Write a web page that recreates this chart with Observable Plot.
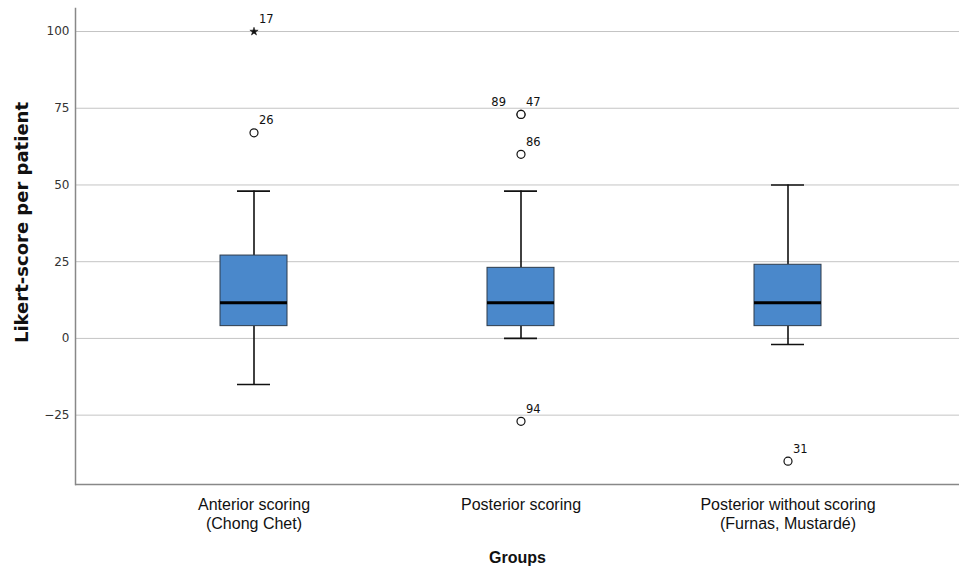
<!DOCTYPE html>
<html><head><meta charset="utf-8">
<script src="https://cdn.jsdelivr.net/npm/d3@7"></script>
<script src="https://cdn.jsdelivr.net/npm/@observablehq/plot@0.6"></script>
<style>body{margin:0;background:#fff;} svg{display:block;}</style>
</head><body><div id="chart"></div>
<script>
const groups = ["Anterior scoring\n(Chong Chet)", "Posterior scoring", "Posterior without scoring\n(Furnas, Mustardé)"];
const q1 = [4, 4, 4];
const medians = [11.6, 11.6, 11.6];
const q3 = [27, 23, 24];
const whiskerLow = [-15, 0, -2];
const whiskerHigh = [48, 48, 50];
const outlierGroup = [0, 0, 1, 1, 1, 1, 2];
const outlierValue = [100, 67, 73, 73, 60, -27, -40];
const outlierLabel = ["17", "26", "89", "47", "86", "94", "31"];
const outlierSymbol = ["star", "circle", "circle", "circle", "circle", "circle", "circle"];
const outlierLabelSide = ["right", "right", "left", "right", "right", "right", "right"];
const yTicks = [-25, 0, 25, 50, 75, 100];

const boxes = groups.map((g, i) => ({g, q1: q1[i], med: medians[i], q3: q3[i], lo: whiskerLow[i], hi: whiskerHigh[i]}));
const outliers = outlierValue.map((v, i) => ({g: groups[outlierGroup[i]], v, label: outlierLabel[i], sym: outlierSymbol[i], side: outlierLabelSide[i]}));

const yMin = -47.6, yMax = 107.5;
const chart = Plot.plot({
  width: 959, height: 569,
  marginLeft: 75, marginRight: 0, marginTop: 8, marginBottom: 85,
  style: {fontFamily: "'DejaVu Sans', sans-serif", background: "#fff"},
  x: {type: "band", domain: groups, paddingInner: 0, paddingOuter: 0.155, align: 0.54, label: null},
  y: {domain: [yMin, yMax], label: null},
  marks: [
    Plot.gridY(yTicks, {stroke: "#c4c4c4", strokeOpacity: 1, strokeWidth: 1}),
    Plot.axisY(yTicks, {tickSize: 0, tickPadding: 6, fontSize: 12, fill: "#333", label: null}),
    Plot.axisX({tickSize: 0, tickPadding: 12, fontSize: 16, fill: "#111", fontFamily: "'Liberation Sans Narrow', 'Liberation Sans', sans-serif", label: null, lineHeight: 1.2}),
    Plot.ruleX(boxes, {x: "g", y1: "lo", y2: "q1", stroke: "#111", strokeWidth: 1.6}),
    Plot.ruleX(boxes, {x: "g", y1: "q3", y2: "hi", stroke: "#111", strokeWidth: 1.6}),
    Plot.tickY(boxes, {x: "g", y: "lo", stroke: "#111", strokeWidth: 1.6, insetLeft: 117, insetRight: 117}),
    Plot.tickY(boxes, {x: "g", y: "hi", stroke: "#111", strokeWidth: 1.6, insetLeft: 117, insetRight: 117}),
    Plot.barY(boxes, {x: "g", y1: "q1", y2: "q3", fill: "#4a88cb", stroke: "#2d3b4a", strokeWidth: 1, insetLeft: 100, insetRight: 100}),
    Plot.tickY(boxes, {x: "g", y: "med", stroke: "#000", strokeWidth: 3, insetLeft: 100, insetRight: 100}),
    Plot.dot(outliers.filter(d => d.sym === "circle"), {x: "g", y: "v", r: 4, fill: "#fff", stroke: "#111", strokeWidth: 1.2}),
    Plot.dot(outliers.filter(d => d.sym === "star"), {x: "g", y: "v", symbol: "star", r: 2.6, fill: "#111", stroke: "#111", strokeWidth: 0.5}),
    Plot.text(outliers.filter(d => d.side === "right"), {x: "g", y: "v", text: "label", dx: 5, dy: -12, textAnchor: "start", fontSize: 11.5, fill: "#111"}),
    Plot.text(outliers.filter(d => d.side === "left"), {x: "g", y: "v", text: "label", dx: -15, dy: -12, textAnchor: "end", fontSize: 11.5, fill: "#111"}),
    Plot.ruleY([yMin], {stroke: "#888", strokeWidth: 1.5}),
    Plot.frame({anchor: "left", stroke: "#888", strokeWidth: 1.5}),
    Plot.text(["Likert-score per patient"], {frameAnchor: "left", textAnchor: "middle", dx: -53, dy: -24, rotate: -90, fontSize: 18, fontWeight: "bold", fill: "#111", fontFamily: "'DejaVu Sans', sans-serif"}),
    Plot.text(["Groups"], {frameAnchor: "bottom", dy: 78, fontSize: 16, fontWeight: "bold", fill: "#111", fontFamily: "'Liberation Sans Narrow', 'Liberation Sans', sans-serif"})
  ]
});
document.getElementById("chart").append(chart);
</script>
</body></html>
